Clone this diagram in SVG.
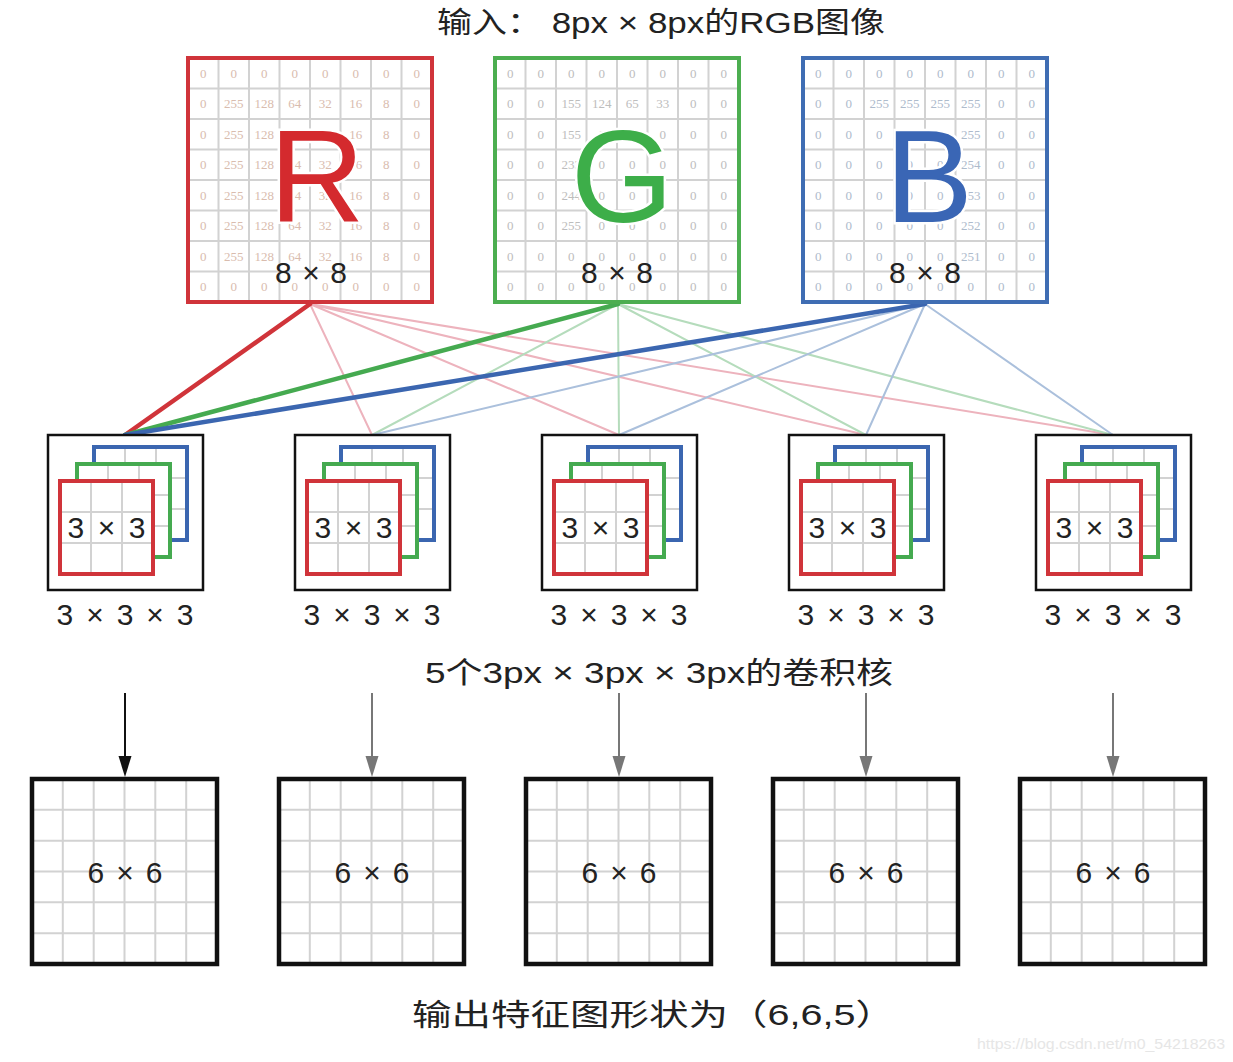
<svg xmlns="http://www.w3.org/2000/svg" xmlns:xlink="http://www.w3.org/1999/xlink" width="1233" height="1062" viewBox="0 0 1233 1062">
<style>
.hand{font-family:"Liberation Sans","Noto Sans CJK SC",sans-serif;fill:#222;}
.num{font-family:"Liberation Serif",serif;font-size:13px;text-anchor:middle;}
.numR{fill:#d9bcae;}
.numG{fill:#bdbdbd;}
.numB{fill:#aebbcc;}
.big{font-family:"Liberation Sans",sans-serif;font-size:132px;text-anchor:middle;stroke:#fff;stroke-width:5;paint-order:stroke;}
.grid{stroke:#d2d2d2;stroke-width:2;fill:none;}
.lbl{font-family:"Liberation Sans","Noto Sans CJK SC",sans-serif;font-size:30px;text-anchor:middle;fill:#222;}
</style>
<defs>
<symbol id="grid8" overflow="visible">
<path class="grid" d="M30.5 0V244M61 0V244M91.5 0V244M122 0V244M152.5 0V244M183 0V244M213.5 0V244M0 30.5H244M0 61H244M0 91.5H244M0 122H244M0 152.5H244M0 183H244M0 213.5H244"/>
</symbol>
<symbol id="grid3" overflow="visible">
<path class="grid" d="M31 0V93M62 0V93M0 31H93M0 62H93"/>
</symbol>
<symbol id="grid6" overflow="visible">
<path class="grid" d="M30.8 0V185M61.7 0V185M92.5 0V185M123.3 0V185M154.2 0V185M0 30.8H185M0 61.7H185M0 92.5H185M0 123.3H185M0 154.2H185"/>
</symbol>
<symbol id="kernel" overflow="visible">
<rect x="0" y="0" width="155" height="155" fill="#fff" stroke="#111" stroke-width="2.5"/>
<rect x="46" y="12" width="93" height="93" fill="#fff"/>
<use href="#grid3" x="46" y="12"/>
<rect x="46" y="12" width="93" height="93" fill="none" stroke="#3b66b0" stroke-width="4"/>
<rect x="29" y="29" width="93" height="93" fill="#fff"/>
<use href="#grid3" x="29" y="29"/>
<rect x="29" y="29" width="93" height="93" fill="none" stroke="#45aa50" stroke-width="4"/>
<rect x="12" y="46" width="93" height="93" fill="#fff"/>
<use href="#grid3" x="12" y="46"/>
<rect x="12" y="46" width="93" height="93" fill="none" stroke="#d0343a" stroke-width="4"/>
</symbol>
<symbol id="outgrid" overflow="visible">
<rect x="0" y="0" width="185" height="185" fill="#fff"/>
<use href="#grid6"/>
<rect x="0" y="0" width="185" height="185" fill="none" stroke="#111" stroke-width="4.5"/>
</symbol>
</defs>

<text class="hand" x="437" y="33" font-size="29" textLength="448" lengthAdjust="spacingAndGlyphs">输入： 8px × 8px的RGB图像</text>

<g id="connectors">
<g stroke-width="2" fill="none">
<path stroke="#edb3bd" d="M310 304L372 435M310 304L619 435M310 304L866 435M310 304L1113 435"/>
<path stroke="#b5dcbc" d="M618 304L372 435M618 304L619 435M618 304L866 435M618 304L1113 435"/>
<path stroke="#abc0dc" d="M925 304L372 435M925 304L619 435M925 304L866 435M925 304L1113 435"/>
</g>
<g stroke-width="4.5" fill="none" stroke-linecap="round">
<path stroke="#d0343a" d="M310 304L125 435"/>
<path stroke="#45aa50" d="M618 304L125 435"/>
<path stroke="#3b66b0" d="M925 304L125 435"/>
</g>
<path stroke="#111" stroke-width="2" fill="none" d="M125 693V760"/>
<path d="M118.5 756L131.5 756L125 777Z" fill="#111"/>
<path stroke="#777" stroke-width="2" fill="none" d="M372 693V760M619 693V760M866 693V760M1113 693V760"/>
<g fill="#777">
<path d="M365.5 756L378.5 756L372 777Z"/>
<path d="M612.5 756L625.5 756L619 777Z"/>
<path d="M859.5 756L872.5 756L866 777Z"/>
<path d="M1106.5 756L1119.5 756L1113 777Z"/>
</g>
</g>

<g id="input-R">
<rect x="188" y="58" width="244" height="244" fill="#fff"/>
<use href="#grid8" x="188" y="58"/>
<g class="num numR" transform="translate(188,58)">
<text y="19.75"><tspan x="15.25">0</tspan><tspan x="45.75">0</tspan><tspan x="76.25">0</tspan><tspan x="106.75">0</tspan><tspan x="137.25">0</tspan><tspan x="167.75">0</tspan><tspan x="198.25">0</tspan><tspan x="228.75">0</tspan></text>
<text y="50.25"><tspan x="15.25">0</tspan><tspan x="45.75">255</tspan><tspan x="76.25">128</tspan><tspan x="106.75">64</tspan><tspan x="137.25">32</tspan><tspan x="167.75">16</tspan><tspan x="198.25">8</tspan><tspan x="228.75">0</tspan></text>
<text y="80.75"><tspan x="15.25">0</tspan><tspan x="45.75">255</tspan><tspan x="76.25">128</tspan><tspan x="106.75">64</tspan><tspan x="137.25">32</tspan><tspan x="167.75">16</tspan><tspan x="198.25">8</tspan><tspan x="228.75">0</tspan></text>
<text y="111.25"><tspan x="15.25">0</tspan><tspan x="45.75">255</tspan><tspan x="76.25">128</tspan><tspan x="106.75">64</tspan><tspan x="137.25">32</tspan><tspan x="167.75">16</tspan><tspan x="198.25">8</tspan><tspan x="228.75">0</tspan></text>
<text y="141.75"><tspan x="15.25">0</tspan><tspan x="45.75">255</tspan><tspan x="76.25">128</tspan><tspan x="106.75">64</tspan><tspan x="137.25">32</tspan><tspan x="167.75">16</tspan><tspan x="198.25">8</tspan><tspan x="228.75">0</tspan></text>
<text y="172.25"><tspan x="15.25">0</tspan><tspan x="45.75">255</tspan><tspan x="76.25">128</tspan><tspan x="106.75">64</tspan><tspan x="137.25">32</tspan><tspan x="167.75">16</tspan><tspan x="198.25">8</tspan><tspan x="228.75">0</tspan></text>
<text y="202.75"><tspan x="15.25">0</tspan><tspan x="45.75">255</tspan><tspan x="76.25">128</tspan><tspan x="106.75">64</tspan><tspan x="137.25">32</tspan><tspan x="167.75">16</tspan><tspan x="198.25">8</tspan><tspan x="228.75">0</tspan></text>
<text y="233.25"><tspan x="15.25">0</tspan><tspan x="45.75">0</tspan><tspan x="76.25">0</tspan><tspan x="106.75">0</tspan><tspan x="137.25">0</tspan><tspan x="167.75">0</tspan><tspan x="198.25">0</tspan><tspan x="228.75">0</tspan></text>
</g>
<rect x="188" y="58" width="244" height="244" fill="none" stroke="#d0343a" stroke-width="4"/>
<text class="big" x="317" y="222" fill="#d42a2e">R</text>
<text class="lbl" x="311" y="283" textLength="72" lengthAdjust="spacing">8 × 8</text>
</g>

<g id="input-G">
<rect x="495" y="58" width="244" height="244" fill="#fff"/>
<use href="#grid8" x="495" y="58"/>
<g class="num numG" transform="translate(495,58)">
<text y="19.75"><tspan x="15.25">0</tspan><tspan x="45.75">0</tspan><tspan x="76.25">0</tspan><tspan x="106.75">0</tspan><tspan x="137.25">0</tspan><tspan x="167.75">0</tspan><tspan x="198.25">0</tspan><tspan x="228.75">0</tspan></text>
<text y="50.25"><tspan x="15.25">0</tspan><tspan x="45.75">0</tspan><tspan x="76.25">155</tspan><tspan x="106.75">124</tspan><tspan x="137.25">65</tspan><tspan x="167.75">33</tspan><tspan x="198.25">0</tspan><tspan x="228.75">0</tspan></text>
<text y="80.75"><tspan x="15.25">0</tspan><tspan x="45.75">0</tspan><tspan x="76.25">155</tspan><tspan x="106.75">0</tspan><tspan x="137.25">0</tspan><tspan x="167.75">0</tspan><tspan x="198.25">0</tspan><tspan x="228.75">0</tspan></text>
<text y="111.25"><tspan x="15.25">0</tspan><tspan x="45.75">0</tspan><tspan x="76.25">233</tspan><tspan x="106.75">0</tspan><tspan x="137.25">0</tspan><tspan x="167.75">0</tspan><tspan x="198.25">0</tspan><tspan x="228.75">0</tspan></text>
<text y="141.75"><tspan x="15.25">0</tspan><tspan x="45.75">0</tspan><tspan x="76.25">244</tspan><tspan x="106.75">0</tspan><tspan x="137.25">0</tspan><tspan x="167.75">0</tspan><tspan x="198.25">0</tspan><tspan x="228.75">0</tspan></text>
<text y="172.25"><tspan x="15.25">0</tspan><tspan x="45.75">0</tspan><tspan x="76.25">255</tspan><tspan x="106.75">0</tspan><tspan x="137.25">0</tspan><tspan x="167.75">0</tspan><tspan x="198.25">0</tspan><tspan x="228.75">0</tspan></text>
<text y="202.75"><tspan x="15.25">0</tspan><tspan x="45.75">0</tspan><tspan x="76.25">0</tspan><tspan x="106.75">0</tspan><tspan x="137.25">0</tspan><tspan x="167.75">0</tspan><tspan x="198.25">0</tspan><tspan x="228.75">0</tspan></text>
<text y="233.25"><tspan x="15.25">0</tspan><tspan x="45.75">0</tspan><tspan x="76.25">0</tspan><tspan x="106.75">0</tspan><tspan x="137.25">0</tspan><tspan x="167.75">0</tspan><tspan x="198.25">0</tspan><tspan x="228.75">0</tspan></text>
</g>
<rect x="495" y="58" width="244" height="244" fill="none" stroke="#4cae50" stroke-width="4"/>
<text class="big" x="622" y="222" fill="#3dae49">G</text>
<text class="lbl" x="617" y="283" textLength="72" lengthAdjust="spacing">8 × 8</text>
</g>

<g id="input-B">
<rect x="803" y="58" width="244" height="244" fill="#fff"/>
<use href="#grid8" x="803" y="58"/>
<g class="num numB" transform="translate(803,58)">
<text y="19.75"><tspan x="15.25">0</tspan><tspan x="45.75">0</tspan><tspan x="76.25">0</tspan><tspan x="106.75">0</tspan><tspan x="137.25">0</tspan><tspan x="167.75">0</tspan><tspan x="198.25">0</tspan><tspan x="228.75">0</tspan></text>
<text y="50.25"><tspan x="15.25">0</tspan><tspan x="45.75">0</tspan><tspan x="76.25">255</tspan><tspan x="106.75">255</tspan><tspan x="137.25">255</tspan><tspan x="167.75">255</tspan><tspan x="198.25">0</tspan><tspan x="228.75">0</tspan></text>
<text y="80.75"><tspan x="15.25">0</tspan><tspan x="45.75">0</tspan><tspan x="76.25">0</tspan><tspan x="106.75">0</tspan><tspan x="137.25">0</tspan><tspan x="167.75">255</tspan><tspan x="198.25">0</tspan><tspan x="228.75">0</tspan></text>
<text y="111.25"><tspan x="15.25">0</tspan><tspan x="45.75">0</tspan><tspan x="76.25">0</tspan><tspan x="106.75">0</tspan><tspan x="137.25">0</tspan><tspan x="167.75">254</tspan><tspan x="198.25">0</tspan><tspan x="228.75">0</tspan></text>
<text y="141.75"><tspan x="15.25">0</tspan><tspan x="45.75">0</tspan><tspan x="76.25">0</tspan><tspan x="106.75">0</tspan><tspan x="137.25">0</tspan><tspan x="167.75">253</tspan><tspan x="198.25">0</tspan><tspan x="228.75">0</tspan></text>
<text y="172.25"><tspan x="15.25">0</tspan><tspan x="45.75">0</tspan><tspan x="76.25">0</tspan><tspan x="106.75">0</tspan><tspan x="137.25">0</tspan><tspan x="167.75">252</tspan><tspan x="198.25">0</tspan><tspan x="228.75">0</tspan></text>
<text y="202.75"><tspan x="15.25">0</tspan><tspan x="45.75">0</tspan><tspan x="76.25">0</tspan><tspan x="106.75">0</tspan><tspan x="137.25">0</tspan><tspan x="167.75">251</tspan><tspan x="198.25">0</tspan><tspan x="228.75">0</tspan></text>
<text y="233.25"><tspan x="15.25">0</tspan><tspan x="45.75">0</tspan><tspan x="76.25">0</tspan><tspan x="106.75">0</tspan><tspan x="137.25">0</tspan><tspan x="167.75">0</tspan><tspan x="198.25">0</tspan><tspan x="228.75">0</tspan></text>
</g>
<rect x="803" y="58" width="244" height="244" fill="none" stroke="#3f6db3" stroke-width="4"/>
<text class="big" x="929" y="222" fill="#3a66b5">B</text>
<text class="lbl" x="925" y="283" textLength="72" lengthAdjust="spacing">8 × 8</text>
</g>

<g id="kernel-1">
<use href="#kernel" x="48" y="435"/>
<text class="lbl" x="106.5" y="538" textLength="78" lengthAdjust="spacing">3 × 3</text>
<text class="lbl" x="125" y="625" textLength="137" lengthAdjust="spacing">3 × 3 × 3</text>
</g>
<g id="kernel-2">
<use href="#kernel" x="295" y="435"/>
<text class="lbl" x="353.5" y="538" textLength="78" lengthAdjust="spacing">3 × 3</text>
<text class="lbl" x="372" y="625" textLength="137" lengthAdjust="spacing">3 × 3 × 3</text>
</g>
<g id="kernel-3">
<use href="#kernel" x="542" y="435"/>
<text class="lbl" x="600.5" y="538" textLength="78" lengthAdjust="spacing">3 × 3</text>
<text class="lbl" x="619" y="625" textLength="137" lengthAdjust="spacing">3 × 3 × 3</text>
</g>
<g id="kernel-4">
<use href="#kernel" x="789" y="435"/>
<text class="lbl" x="847.5" y="538" textLength="78" lengthAdjust="spacing">3 × 3</text>
<text class="lbl" x="866" y="625" textLength="137" lengthAdjust="spacing">3 × 3 × 3</text>
</g>
<g id="kernel-5">
<use href="#kernel" x="1036" y="435"/>
<text class="lbl" x="1094.5" y="538" textLength="78" lengthAdjust="spacing">3 × 3</text>
<text class="lbl" x="1113" y="625" textLength="137" lengthAdjust="spacing">3 × 3 × 3</text>
</g>

<text class="hand" x="425" y="683" font-size="30" textLength="468" lengthAdjust="spacingAndGlyphs">5个3px × 3px × 3px的卷积核</text>

<g id="output-1">
<use href="#outgrid" x="32" y="779"/>
<text class="lbl" x="125" y="883" textLength="75" lengthAdjust="spacing">6 × 6</text>
</g>
<g id="output-2">
<use href="#outgrid" x="279" y="779"/>
<text class="lbl" x="372" y="883" textLength="75" lengthAdjust="spacing">6 × 6</text>
</g>
<g id="output-3">
<use href="#outgrid" x="526" y="779"/>
<text class="lbl" x="619" y="883" textLength="75" lengthAdjust="spacing">6 × 6</text>
</g>
<g id="output-4">
<use href="#outgrid" x="773" y="779"/>
<text class="lbl" x="866" y="883" textLength="75" lengthAdjust="spacing">6 × 6</text>
</g>
<g id="output-5">
<use href="#outgrid" x="1020" y="779"/>
<text class="lbl" x="1113" y="883" textLength="75" lengthAdjust="spacing">6 × 6</text>
</g>

<text class="hand" x="412" y="1025" font-size="30" textLength="483" lengthAdjust="spacingAndGlyphs">输出特征图形状为（6,6,5）</text>

<text x="977" y="1049" font-family="Liberation Sans, sans-serif" font-size="15.5" fill="#e6e6e6" textLength="248" lengthAdjust="spacingAndGlyphs">https://blog.csdn.net/m0_54218263</text>
</svg>
